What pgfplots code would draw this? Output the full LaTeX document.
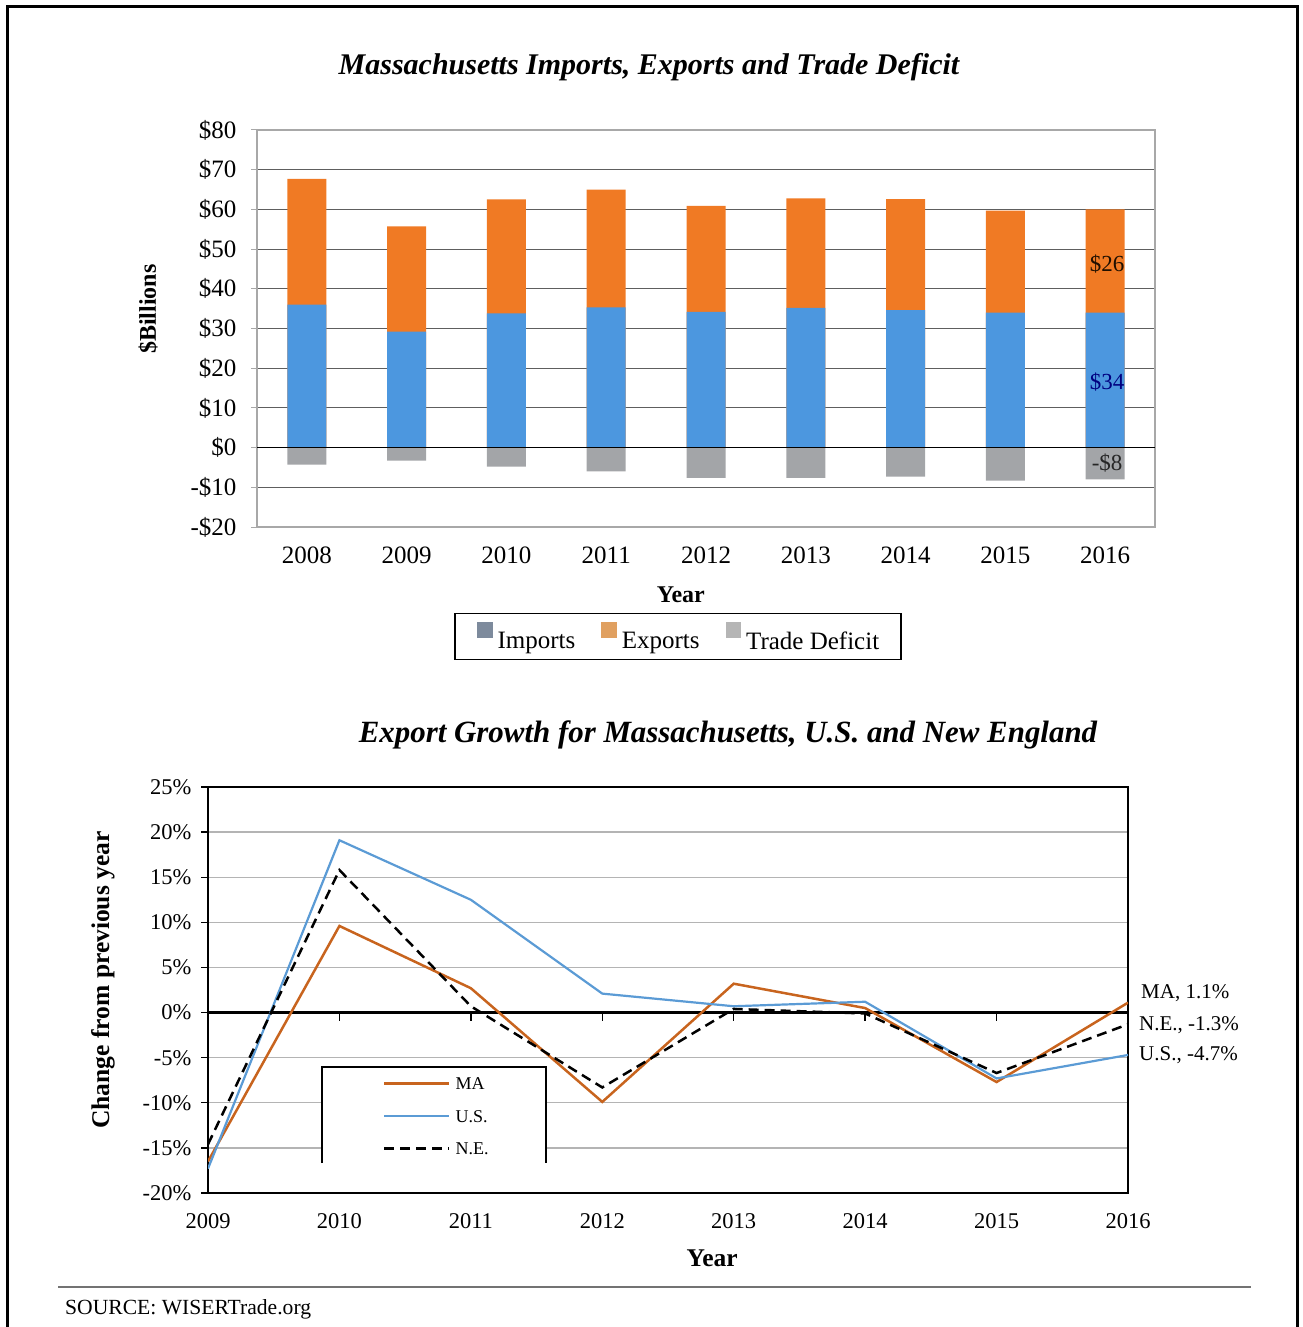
\documentclass[border=0pt]{standalone}
\usepackage{fontspec}
\setmainfont{Liberation Serif}
\usepackage{pgfplots}
\usepackage{pgfplotstable}
\pgfplotsset{compat=1.18}

\definecolor{impblue}{HTML}{4C97DF}
\definecolor{exporange}{HTML}{F07A24}
\definecolor{defgray}{HTML}{A3A5A8}
\definecolor{legimp}{HTML}{7D8A9C}
\definecolor{legexp}{HTML}{E0A060}
\definecolor{legdef}{HTML}{B5B5B5}
\definecolor{gridtop}{HTML}{5E5E5E}
\definecolor{frametop}{HTML}{A8A8A8}
\definecolor{gridbot}{HTML}{B4B4B4}
\definecolor{maline}{HTML}{C8641E}
\definecolor{usline}{HTML}{5B9BD5}

\newcommand{\titlefont}{\rmfamily\fontsize{30}{36}\selectfont\bfseries\itshape}
\newcommand{\toptick}{\rmfamily\fontsize{25}{30}\selectfont}
\newcommand{\toplab}{\rmfamily\fontsize{24}{29}\selectfont\bfseries}
\newcommand{\toplegfont}{\rmfamily\fontsize{25}{30}\selectfont}
\newcommand{\datfont}{\rmfamily\fontsize{23}{28}\selectfont}
\newcommand{\bottick}{\rmfamily\fontsize{22.5}{27}\selectfont}
\newcommand{\botlab}{\rmfamily\fontsize{25.5}{30}\selectfont\bfseries}
\newcommand{\bottitle}{\rmfamily\fontsize{30.9}{36}\selectfont\bfseries\itshape}
\newcommand{\botleg}{\rmfamily\fontsize{18}{22}\selectfont}
\newcommand{\rlab}{\rmfamily\fontsize{21}{25}\selectfont}
\newcommand{\srcfont}{\rmfamily\fontsize{21.6}{25}\selectfont}

\pgfplotsset{
  legimpstyle/.style={legend image code/.code={\fill[legimp] (0pt,4pt) rectangle (14pt,18pt);}},
  legexpstyle/.style={legend image code/.code={\fill[legexp] (0pt,4pt) rectangle (14pt,18pt);}},
  legdefstyle/.style={legend image code/.code={\fill[legdef] (0pt,4pt) rectangle (14pt,18pt);}},
}

\pgfplotstableread{
year imp exp def
2008 36.0 31.7 -4.3
2009 29.2 26.5 -3.3
2010 33.8 28.7 -4.8
2011 35.3 29.7 -6.0
2012 34.2 26.7 -7.6
2013 35.2 27.6 -7.6
2014 34.6 28.0 -7.3
2015 34.0 25.7 -8.3
2016 34.0 26.0 -8.0
}\tradedata

\pgfplotstableread{
year MA US NE
2009 -16.5 -17.3 -14.6
2010 9.6 19.1 15.8
2011 2.7 12.5 0.7
2012 -9.9 2.1 -8.3
2013 3.2 0.7 0.4
2014 0.5 1.2 -0.1
2015 -7.7 -7.3 -6.7
2016 1.1 -4.7 -1.3
}\growthdata

\begin{document}
\begin{tikzpicture}
\useasboundingbox (0pt,0pt) rectangle (1302pt,-1327pt);

% ---------------- top chart ----------------
\begin{axis}[
  at={(257pt,-527pt)}, anchor=south west,
  scale only axis, width=898pt, height=397pt,
  xmin=2007.5, xmax=2016.5, ymin=-20, ymax=80,
  /pgf/number format/assume math mode=true,
  xtick={2008,2009,2010,2011,2012,2013,2014,2015,2016},
  xticklabels={2008,2009,2010,2011,2012,2013,2014,2015,2016},
  ytick={-20,-10,0,10,20,30,40,50,60,70,80},
  yticklabels={-\$20,-\$10,\$0,\$10,\$20,\$30,\$40,\$50,\$60,\$70,\$80},
  ytick pos=left,
  ymajorgrids, grid style={draw=gridtop, line width=0.9pt},
  axis line style={draw=frametop, line width=1.5pt},
  xtick style={draw=none},
  ytick style={draw=frametop, line width=1pt},
  tick align=outside, major tick length=6pt,
  ticklabel style={font=\toptick},
  xticklabel style={yshift=-10pt},
  yticklabel style={xshift=-11pt},
  xlabel={Year}, ylabel={\$Billions},
  xlabel style={font=\toplab, at={(axis description cs:0.472,-0.171)}, anchor=center},
  ylabel style={font=\toplab, at={(axis description cs:-0.1214,0.549)}, anchor=center},
  legend columns=-1,
  legend style={at={(axis description cs:0.469,-0.276)}, anchor=center,
    draw=black, line width=1.5pt, font=\toplegfont,
    inner xsep=22pt, inner ysep=9pt,
    nodes={inner sep=0pt},
    column sep=5pt,
    /tikz/every even column/.append style={column sep=26pt}},
]
\addplot[ybar, bar width=39pt, bar shift=0pt, fill=exporange, draw=none, forget plot]
  table[x=year, y expr=\thisrow{imp}+\thisrow{exp}] {\tradedata};
\addplot[ybar, bar width=39pt, bar shift=0pt, fill=impblue, draw=none, forget plot]
  table[x=year, y=imp] {\tradedata};
\addplot[ybar, bar width=39pt, bar shift=0pt, fill=defgray, draw=none, forget plot]
  table[x=year, y=def] {\tradedata};
\draw[black, line width=1.2pt] (axis cs:2007.5,0) -- (axis cs:2016.5,0);
\node[font=\datfont, text=black!80!orange!60!black] at (axis cs:2016.02,46.3) {\$26};
\node[font=\datfont, text=blue!50!black] at (axis cs:2016.02,16.6) {\$34};
\node[font=\datfont, text=black!85] at (axis cs:2016.02,-4.0) {-\$8};
\addlegendimage{legimpstyle}\addlegendentry{Imports}
\addlegendimage{legexpstyle}\addlegendentry{Exports}
\addlegendimage{legdefstyle}\addlegendentry{Trade Deficit}
\end{axis}

% ---------------- bottom chart ----------------
\begin{axis}[
  at={(208pt,-1193pt)}, anchor=south west,
  scale only axis, width=920pt, height=406pt,
  xmin=2009, xmax=2016, ymin=-20, ymax=25,
  /pgf/number format/assume math mode=true,
  xtick={2009,2010,2011,2012,2013,2014,2015,2016},
  xticklabels={2009,2010,2011,2012,2013,2014,2015,2016},
  ytick={-20,-15,-10,-5,0,5,10,15,20,25},
  yticklabels={-20\%,-15\%,-10\%,-5\%,0\%,5\%,10\%,15\%,20\%,25\%},
  ytick pos=left,
  ymajorgrids, grid style={draw=gridbot, line width=1.3pt},
  axis line style={black, line width=2.5pt},
  xtick style={draw=none},
  ytick style={black, line width=1.3pt},
  tick align=outside, major tick length=7pt,
  ticklabel style={font=\bottick},
  xticklabel style={yshift=-10pt},
  yticklabel style={xshift=-6pt},
  xlabel={Year}, ylabel={Change from previous year},
  xlabel style={font=\botlab, at={(axis description cs:0.548,-0.160)}, anchor=center},
  ylabel style={font=\botlab, at={(axis description cs:-0.1141,0.5246)}, anchor=center},
  legend cell align=left,
  legend image code/.code={\draw[#1] (0pt,0pt) -- (65pt,0pt);},
  legend style={at={(axis description cs:0.1902,0.2845)}, anchor=north west,
    draw=none, fill=none, font=\botleg, inner sep=0pt,
    nodes={inner sep=0pt, text height=12pt, text depth=0pt},
    row sep=20.5pt, column sep=5pt},
]
\fill[white] (axis cs:2009.867,-6.03) rectangle (axis cs:2011.572,-16.68);
\draw[black, line width=1.3pt] (axis cs:2009.867,-16.68) -- (axis cs:2009.867,-6.03)
   -- (axis cs:2011.572,-6.03) -- (axis cs:2011.572,-16.68);
\draw[black, line width=2.5pt] (axis cs:2009,0) -- (axis cs:2016,0);
\pgfplotsinvokeforeach{2010,2011,2012,2013,2014,2015}{
  \draw[black, line width=1.5pt] (axis cs:#1,0) -- ++(0pt,-8pt);
}
\addplot[maline, line width=2.5pt, mark=none] table[x=year, y=MA] {\growthdata};
\addlegendentry{MA}
\addplot[usline, line width=2.2pt, mark=none] table[x=year, y=US] {\growthdata};
\addlegendentry{U.S.}
\addplot[black, line width=2.5pt, dash pattern=on 10pt off 6pt, mark=none] table[x=year, y=NE] {\growthdata};
\addlegendentry{N.E.}
\end{axis}

% ---------------- annotations ----------------
\node[font=\titlefont] at (649pt,-67pt) {Massachusetts Imports, Exports and Trade Deficit};
\node[font=\bottitle] at (728pt,-735pt) {Export Growth for Massachusetts, U.S. and New England};
\node[font=\rlab, anchor=west, inner sep=0pt] at (1141pt,-993pt) {MA, 1.1\%};
\node[font=\rlab, anchor=west, inner sep=0pt] at (1139pt,-1025pt) {N.E., -1.3\%};
\node[font=\rlab, anchor=west, inner sep=0pt] at (1139pt,-1055pt) {U.S., -4.7\%};
\draw[color=black!55, line width=2pt] (58pt,-1287pt) -- (1251pt,-1287pt);
\node[font=\srcfont, anchor=west, inner sep=0pt] at (65pt,-1309pt) {SOURCE: WISERTrade.org};
\draw[black, line width=3pt] (7pt,-1340pt) -- (7pt,-7pt) -- (1297pt,-7pt) -- (1297pt,-1340pt);
\end{tikzpicture}
\end{document}
